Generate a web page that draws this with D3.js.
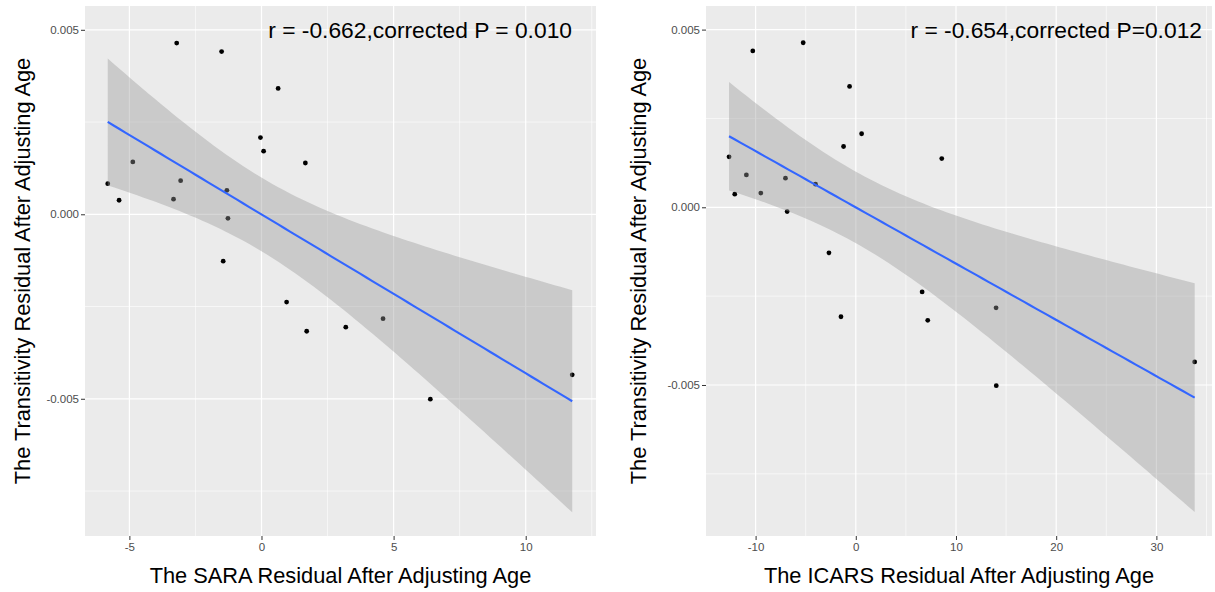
<!DOCTYPE html>
<html><head><meta charset="utf-8">
<script src="https://cdn.jsdelivr.net/npm/d3@7"></script>
<style>body{margin:0;background:#fff;} svg{display:block;font-family:"Liberation Sans",Arial,sans-serif;}</style>
</head><body>
<svg id="c" width="1215" height="592"></svg>
<script>
// ---- data ----
const saraX = [-5.82,-5.39,-4.87,-3.21,-3.33,-3.06,-1.51,-1.31,-1.27,-1.45,-0.04,0.08,0.63,1.66,0.95,1.71,3.19,4.60,6.39,11.76];
const saraY = [0.00083,0.00038,0.00142,0.00464,0.00041,0.00091,0.00441,0.00065,-0.00011,-0.00127,0.00208,0.00171,0.00341,0.00139,-0.00238,-0.00317,-0.00306,-0.00283,-0.00501,-0.00435];
const icarsX = [-12.65,-12.08,-10.92,-10.28,-9.48,-7.02,-6.85,-5.25,-4.02,-2.68,-1.22,-0.62,0.58,8.58,6.62,-1.48,7.18,14.0,14.02,33.82];
const icarsY = [0.00142,0.00037,0.00091,0.00440,0.00040,0.00082,-0.00012,0.00463,0.00065,-0.00128,0.00171,0.00340,0.00207,0.00137,-0.00238,-0.00308,-0.00318,-0.00283,-0.00502,-0.00435];
const leftXTicks = [-5,0,5,10];
const rightXTicks = [-10,0,10,20,30];
const yTicks = [-0.005,0,0.005];
const leftNote = "r = -0.662,corrected P = 0.010";
const rightNote = "r = -0.654,corrected P=0.012";
const xTitleLeft = "The SARA Residual After Adjusting Age";
const xTitleRight = "The ICARS Residual After Adjusting Age";
const yTitle = "The Transitivity Residual After Adjusting Age";

const svg = d3.select("#c");

function fit(xs, ys){
  const n = xs.length, mx = d3.mean(xs), my = d3.mean(ys);
  let sxx=0, sxy=0;
  for(let i=0;i<n;i++){ sxx+=(xs[i]-mx)**2; sxy+=(xs[i]-mx)*(ys[i]-my); }
  const b = sxy/sxx, a = my - b*mx;
  let sse=0; for(let i=0;i<n;i++){ sse+=(ys[i]-a-b*xs[i])**2; }
  const s = Math.sqrt(sse/(n-2));
  const t = 2.100922; // qt(0.975, 18)
  const [x0,x1] = d3.extent(xs);
  return d3.range(80).map(k=>{
    const x = x0 + (x1-x0)*k/79;
    const yh = a+b*x;
    const se = s*Math.sqrt(1/n + (x-mx)**2/sxx);
    return {x, y:yh, lo:yh-t*se, hi:yh+t*se};
  });
}

function panel(o){
  const g = svg.append("g");
  const x = d3.scaleLinear().domain(o.xd).range([o.L,o.R]);
  const y = d3.scaleLinear().domain(o.yd).range([o.B,o.T]);
  g.append("rect").attr("x",o.L).attr("y",o.T).attr("width",o.R-o.L).attr("height",o.B-o.T).attr("fill","#EBEBEB");
  const clip = "clip"+o.id;
  g.append("clipPath").attr("id",clip).append("rect").attr("x",o.L).attr("y",o.T).attr("width",o.R-o.L).attr("height",o.B-o.T);
  const pg = g.append("g").attr("clip-path",`url(#${clip})`);
  // minor grid
  o.xMinor.forEach(v=>pg.append("line").attr("x1",x(v)).attr("x2",x(v)).attr("y1",o.T).attr("y2",o.B).attr("stroke","#fff").attr("stroke-width",0.6));
  o.yMinor.forEach(v=>pg.append("line").attr("y1",y(v)).attr("y2",y(v)).attr("x1",o.L).attr("x2",o.R).attr("stroke","#fff").attr("stroke-width",0.6));
  o.xTicks.forEach(v=>pg.append("line").attr("x1",x(v)).attr("x2",x(v)).attr("y1",o.T).attr("y2",o.B).attr("stroke","#fff").attr("stroke-width",1.2));
  yTicks.forEach(v=>pg.append("line").attr("y1",y(v)).attr("y2",y(v)).attr("x1",o.L).attr("x2",o.R).attr("stroke","#fff").attr("stroke-width",1.2));
  // points
  pg.selectAll("circle").data(o.xs.map((v,i)=>[v,o.ys[i]])).join("circle")
    .attr("cx",d=>x(d[0])).attr("cy",d=>y(d[1])).attr("r",2.4).attr("fill","#000");
  // smooth
  const f = fit(o.xs,o.ys);
  pg.append("path").datum(f).attr("d",d3.area().x(d=>x(d.x)).y0(d=>y(d.lo)).y1(d=>y(d.hi)))
    .attr("fill","#999999").attr("fill-opacity",0.4);
  pg.append("path").datum(f).attr("d",d3.line().x(d=>x(d.x)).y(d=>y(d.y)))
    .attr("fill","none").attr("stroke","#3366FF").attr("stroke-width",2.1);
  // axes
  const ax = g.append("g").attr("transform",`translate(0,${o.B})`)
    .call(d3.axisBottom(x).tickValues(o.xTicks).tickSize(4).tickPadding(3).tickFormat(d3.format("d")));
  const ay = g.append("g").attr("transform",`translate(${o.L},0)`)
    .call(d3.axisLeft(y).tickValues(yTicks).tickSize(4).tickPadding(2).tickFormat(d3.format(".3f")));
  [ax,ay].forEach(a=>{
    a.select(".domain").remove();
    a.selectAll(".tick line").attr("stroke","#333").attr("stroke-width",1);
    a.selectAll(".tick text").attr("fill","#4D4D4D").style("font-size","11.5px").style("font-family","Liberation Sans, Arial, sans-serif");
  });
  ax.selectAll(".tick text").text(d=>d3.format("d")(d).replace("−","-"));
  ay.selectAll(".tick text").text(d=>d3.format(".3f")(d).replace("−","-"));
  // titles
  g.append("text").attr("x",(o.L+Math.min(o.R,o.Rfull))/2).attr("y",583).attr("text-anchor","middle")
    .style("font-size","21.8px").attr("fill","#000").text(o.xTitle);
  g.append("text").attr("transform",`translate(${o.yTitleX},${(o.T+o.B)/2}) rotate(-90)`).attr("text-anchor","middle")
    .style("font-size","21.8px").attr("fill","#000").text(yTitle);
  g.append("text").attr("x",o.noteX).attr("y",38).attr("text-anchor","end")
    .style("font-size","22.8px").attr("fill","#000").text(o.note);
}

panel({id:"a", L:85, R:596, Rfull:596, T:6, B:536, xd:[-6.68,12.66], yd:[-0.008719,0.005645],
  xs:saraX, ys:saraY, xTicks:leftXTicks, xMinor:[-2.5,2.5,7.5,12.5], yMinor:[-0.0075,-0.0025,0.0025],
  xTitle:xTitleLeft, yTitleX:29.5, noteX:572, note:leftNote});
panel({id:"b", L:706, R:1212, Rfull:1216.6, T:6, B:536, xd:[-14.95,35.55], yd:[-0.009249,0.005664],
  xs:icarsX, ys:icarsY, xTicks:rightXTicks, xMinor:[-5,5,15,25,35], yMinor:[-0.0075,-0.0025,0.0025],
  xTitle:xTitleRight, yTitleX:646, noteX:1202, note:rightNote});
</script>
</body></html>
